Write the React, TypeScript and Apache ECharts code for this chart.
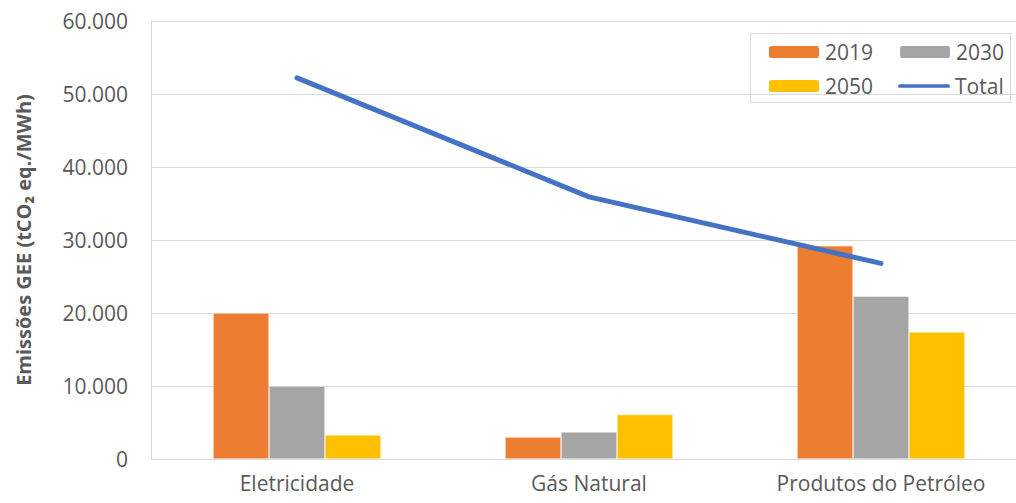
import React, { useEffect, useRef } from "react";
import * as echarts from "echarts";

const categories = ["Eletricidade", "Gás Natural", "Produtos do Petróleo"];
const s2019 = [20000, 3000, 29200];
const s2030 = [10000, 3700, 22300];
const s2050 = [3300, 6100, 17400];
const total = [52200, 35900, 26800];

const FONT = "'Open Sans', sans-serif";
const TOTAL_ICON =
  "path://M2,0 L54,0 A2,2 0 0 1 54,4 L2,4 A2,2 0 0 1 2,0 Z";

function fmt(v: number): string {
  if (v === 0) return "0";
  const s = Math.round(v).toString();
  return s.replace(/\B(?=(\d{3})+(?!\d))/g, ".");
}

export default function App() {
  const ref = useRef<HTMLDivElement>(null);
  useEffect(() => {
    const chart = echarts.init(ref.current!, null, { renderer: "svg" });
    const legendText = { color: "#595959", fontSize: 21, fontFamily: FONT, lineHeight: 22 };
    chart.setOption({
      animation: false,
      backgroundColor: "#fff",
      grid: { left: 151, right: 0, top: 21, bottom: 44, containLabel: false },
      legend: [
        {
          data: ["2019", "2030"],
          left: 767,
          top: 41,
          padding: 0,
          itemWidth: 52,
          itemHeight: 14,
          itemGap: 25,
          textStyle: legendText,
        },
        {
          data: ["2050", { name: "Total", icon: TOTAL_ICON }],
          left: 767,
          top: 75,
          padding: 0,
          itemWidth: 52,
          itemHeight: 14,
          itemGap: 25,
          textStyle: legendText,
        },
      ],
      graphic: [
        {
          type: "rect",
          shape: { x: 750.5, y: 33.5, width: 260, height: 69 },
          style: { fill: "none", stroke: "#D9D9D9", lineWidth: 1 },
          z: 100,
        },
      ],
      xAxis: {
        type: "category",
        data: categories,
        axisLine: { show: true, lineStyle: { color: "#D9D9D9", width: 1 } },
        axisTick: { show: false },
        axisLabel: { color: "#595959", fontSize: 21, fontFamily: FONT, margin: 13 },
      },
      yAxis: {
        type: "value",
        min: 0,
        max: 60000,
        interval: 10000,
        name: "Emissões GEE (tCO₂ eq./MWh)",
        nameLocation: "middle",
        nameGap: 118,
        nameTextStyle: { color: "#595959", fontSize: 20, fontWeight: "bold", fontFamily: FONT },
        axisLine: { show: true, lineStyle: { color: "#D9D9D9", width: 1 } },
        axisTick: { show: false },
        splitLine: { lineStyle: { color: "#D9D9D9", width: 1 } },
        axisLabel: {
          color: "#595959",
          fontSize: 21,
          fontFamily: FONT,
          margin: 23,
          formatter: (v: number) => fmt(v),
        },
      },
      series: [
        {
          name: "2019",
          type: "bar",
          data: s2019,
          barGap: "0%",
          barCategoryGap: "42.5%",
          itemStyle: { color: "#ED7D31", borderColor: "#fff", borderWidth: 0.5 },
        },
        {
          name: "2030",
          type: "bar",
          data: s2030,
          barGap: "0%",
          barCategoryGap: "42.5%",
          itemStyle: { color: "#A5A5A5", borderColor: "#fff", borderWidth: 0.5 },
        },
        {
          name: "2050",
          type: "bar",
          data: s2050,
          barGap: "0%",
          barCategoryGap: "42.5%",
          itemStyle: { color: "#FFC000", borderColor: "#fff", borderWidth: 0.5 },
        },
        {
          name: "Total",
          type: "line",
          data: total,
          symbol: "none",
          showSymbol: false,
          lineStyle: { color: "#4472C4", width: 5, cap: "round", join: "round" },
          itemStyle: { color: "#4472C4" },
          z: 10,
        },
      ],
    });
    return () => chart.dispose();
  }, []);
  return (
    <div style={{ width: 1016, height: 503, position: "absolute", left: 0, top: 0, overflow: "hidden" }}>
      <div ref={ref} style={{ width: 1027, height: 503 }} />
    </div>
  );
}
